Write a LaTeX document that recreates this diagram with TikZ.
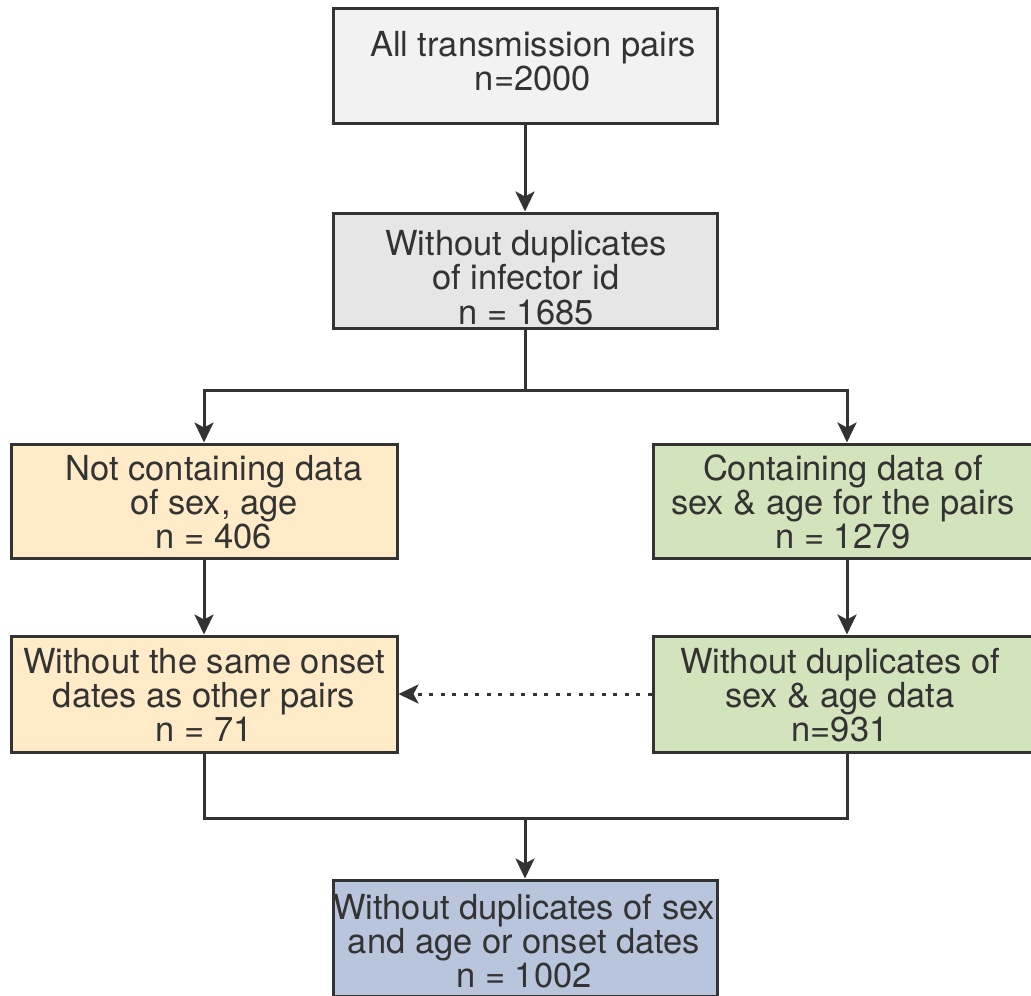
\documentclass[tikz,border=0pt]{standalone}
\usepackage{fontspec}
\setmainfont{TeX Gyre Heros}
\usetikzlibrary{arrows.meta}
\definecolor{txt}{HTML}{333333}
\definecolor{fgray}{HTML}{F2F2F2}
\definecolor{fgray2}{HTML}{E6E6E6}
\definecolor{forange}{HTML}{FFEBC8}
\definecolor{fgreen}{HTML}{D3E3BB}
\definecolor{fblue}{HTML}{B9C5DC}
\tikzset{
  box/.style={draw=txt, line width=3pt, rectangle, inner sep=0pt},
  boxtext/.style={inner sep=0pt, align=center, text=txt,
    font=\fontsize{34.5}{34.3}\selectfont},
  conn/.style={draw=txt, line width=3pt},
  arr/.style={conn, -{Stealth[length=20pt,width=19pt,inset=5pt]}},
  dotarr/.style={arr, line cap=butt, dash pattern=on 4pt off 7.5pt}
}
\begin{document}
\begin{tikzpicture}[x=1pt,y=-1pt]
\useasboundingbox (0,0) rectangle (1031,996);
\node[box, fill=fgray, minimum width=384pt, minimum height=115pt] (b1) at (525,65.5) {};
\node[box, fill=fgray2, minimum width=384pt, minimum height=115pt] (b2) at (525,270.5) {};
\node[box, fill=forange, minimum width=386pt, minimum height=114pt] (b3) at (204,501) {};
\node[box, fill=fgreen, minimum width=388pt, minimum height=114pt] (b4) at (847,501) {};
\node[box, fill=forange, minimum width=386pt, minimum height=116pt] (b5) at (204,694) {};
\node[box, fill=fgreen, minimum width=388pt, minimum height=116pt] (b6) at (847,694) {};
\node[box, fill=fblue, minimum width=384pt, minimum height=116pt] (b7) at (525,938) {};
\node[boxtext] (t1) at ([xshift=8pt,yshift=4pt]b1.center) {All transmission pairs\\n=2000};
\node[boxtext] (t2) at ([xshift=1pt,yshift=-7pt]b2.center) {Without duplicates\\of infector id\\n = 1685};
\node[boxtext] (t3) at ([xshift=10pt,yshift=-1pt]b3.center) {Not containing data\\of sex, age\\n = 406};
\node[boxtext] (t4) at ([xshift=-4pt,yshift=-1pt]b4.center) {Containing data of\\sex \& age for the pairs\\n = 1279};
\node[boxtext] (t5) at ([xshift=0pt,yshift=-1pt]b5.center) {Without the same onset\\dates as other pairs\\n = 71};
\node[boxtext] (t6) at ([xshift=-7pt,yshift=-1pt]b6.center) {Without duplicates of\\sex \& age data\\n=931};
\node[boxtext] (t7) at ([xshift=-1pt,yshift=-3pt]b7.center) {Without duplicates of sex\\and age or onset dates\\n = 1002};
\coordinate (split) at (525,390);
\coordinate (merge) at (525,818);
\draw[arr] (b1) -- (b2);
\draw[conn] (b2) -- (split);
\draw[arr] (split) -| (b3);
\draw[arr] (split) -| (b4);
\draw[arr] (b3) -- (b5);
\draw[arr] (b4) -- (b6);
\draw[dotarr] (b6) -- (b5);
\draw[conn] (b5) |- (merge);
\draw[conn] (b6) |- (merge);
\draw[arr] (merge) -- (b7);
\end{tikzpicture}
\end{document}
